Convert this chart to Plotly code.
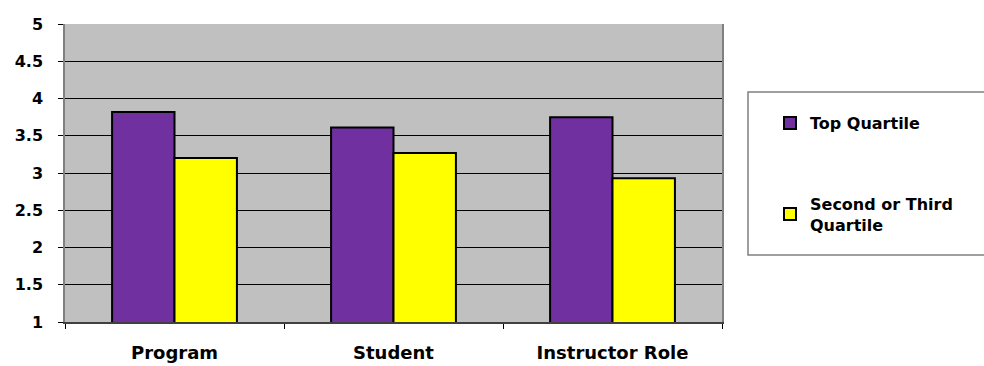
import plotly.graph_objects as go

categories = ["Program", "Student", "Instructor Role"]
top_quartile = [3.82, 3.61, 3.75]
second_third_quartile = [3.20, 3.27, 2.93]
series_names = ["Top Quartile", "Second or Third<br>Quartile"]
y_tick_values = [1, 1.5, 2, 2.5, 3, 3.5, 4, 4.5, 5]
y_tick_labels = ["1", "1.5", "2", "2.5", "3", "3.5", "4", "4.5", "5"]

W, H = 984, 366
ML, MR, MT, MB = 65, 262, 24, 44
pw = W - ML - MR
ph = H - MT - MB


def px_x(x):
    return (x - ML) / pw


def px_y(y):
    return (H - MB - y) / ph


font_family = "DejaVu Sans, Verdana, sans-serif"

fig = go.Figure()
fig.add_trace(go.Bar(
    x=categories, y=top_quartile, name=series_names[0], base=0,
    marker=dict(color="#7030A0", line=dict(color="black", width=2)),
    legendgroup="top",
))
fig.add_trace(go.Bar(
    x=categories, y=second_third_quartile, name=series_names[1], base=0,
    marker=dict(color="#FFFF00", line=dict(color="black", width=2)),
    legendgroup="mid",
))

# legend frame
fig.add_shape(type="rect", xref="paper", yref="paper",
              x0=px_x(748), x1=px_x(990), y0=px_y(255), y1=px_y(92),
              line=dict(color="#808080", width=1.5), fillcolor="white", layer="below")

fig.update_layout(
    width=W, height=H,
    margin=dict(l=ML, r=MR, t=MT, b=MB, pad=0, autoexpand=False),
    paper_bgcolor="white",
    plot_bgcolor="#C0C0C0",
    barmode="group",
    bargap=0.43,
    bargroupgap=0,
    font=dict(family=font_family, size=16, color="black", weight="bold"),
    showlegend=True,
    legend=dict(
        x=px_x(770), y=px_y(106), xanchor="left", yanchor="top",
        bgcolor="rgba(0,0,0,0)", borderwidth=0,
        font=dict(size=16, family=font_family, weight="bold"),
        tracegroupgap=57, itemwidth=30, traceorder="grouped",
    ),
    xaxis=dict(
        range=[-0.5, 2.5],
        showgrid=False, tickson="boundaries", ticks="outside", ticklen=5,
        tickcolor="black", showline=True, linecolor="#404040", linewidth=1.5,
        ticklabelstandoff=14, tickfont=dict(size=18),
    ),
    yaxis=dict(
        range=[1, 5], tickvals=y_tick_values, ticktext=y_tick_labels,
        showgrid=True, gridcolor="black", gridwidth=1,
        ticks="outside", ticklen=5, tickcolor="black",
        showline=True, linecolor="#808080", linewidth=1.5, mirror=True,
        zeroline=False, tickfont=dict(size=16), ticklabelstandoff=12,
    ),
)

fig.write_html("out.html")
